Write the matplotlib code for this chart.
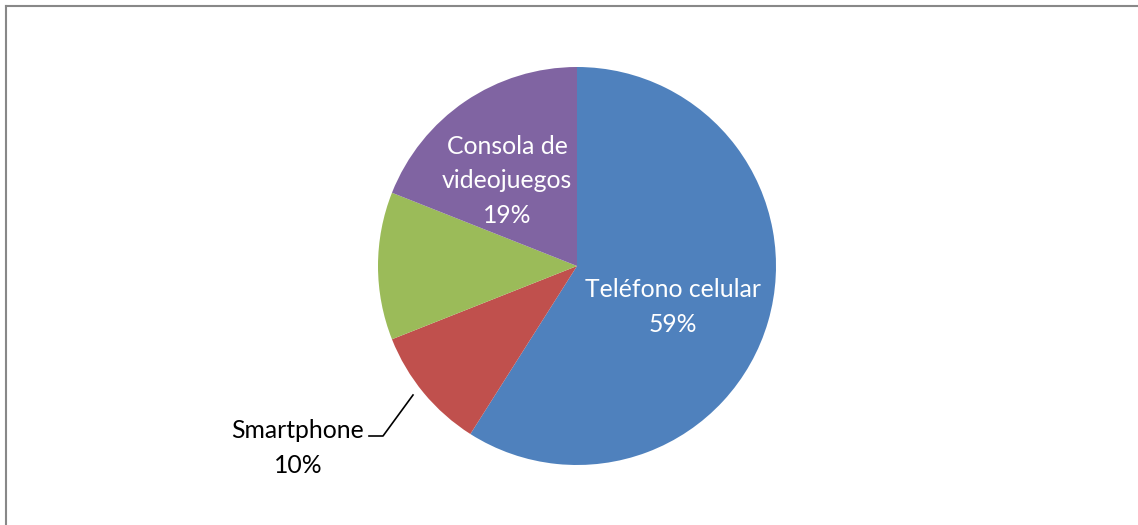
import matplotlib.pyplot as plt
from matplotlib.lines import Line2D

labels = ['Teléfono celular', 'Smartphone', '', 'Consola de\nvideojuegos']
values = [59, 10, 12, 19]
colors = ['#4f81bd', '#c0504d', '#9bbb59', '#8064a2']

W, H = 1138, 525
fig = plt.figure(figsize=(W / 100, H / 100), dpi=100)
ax = fig.add_axes([0, 0, 1, 1])

cx, cy, r = 577, H - 266, 199
ax.pie(values, colors=colors, startangle=90, counterclock=False,
       center=(cx, cy), radius=r, frame=True,
       wedgeprops=dict(linewidth=0))
ax.set_xlim(0, W)
ax.set_ylim(0, H)
ax.set_aspect('equal')
ax.axis('off')

font = 'Lato'
fs = 17.8
ls = 1.6
ax.text(673, H - 307, f'{labels[0]}\n{values[0]}%', color='white', fontsize=fs,
        family=font, ha='center', va='center', linespacing=ls)
ax.text(507, H - 181, f'{labels[3]}\n{values[3]}%', color='white', fontsize=fs,
        family=font, ha='center', va='center', linespacing=ls)
ax.text(298, H - 448, f'{labels[1]}\n{values[1]}%', color='black', fontsize=fs,
        family=font, ha='center', va='center', linespacing=ls)
ax.plot([413, 383, 369], [H - 395, H - 436, H - 436], color='black', lw=1.2)

# outer frame (top and left edges)
fig.add_artist(Line2D([5.5 / W, 1], [1 - 5.5 / H, 1 - 5.5 / H], color='#888888', lw=1.5))
fig.add_artist(Line2D([5.5 / W, 5.5 / W], [0, 1 - 5.5 / H], color='#888888', lw=1.5))

fig.savefig('out.png', dpi=100)
